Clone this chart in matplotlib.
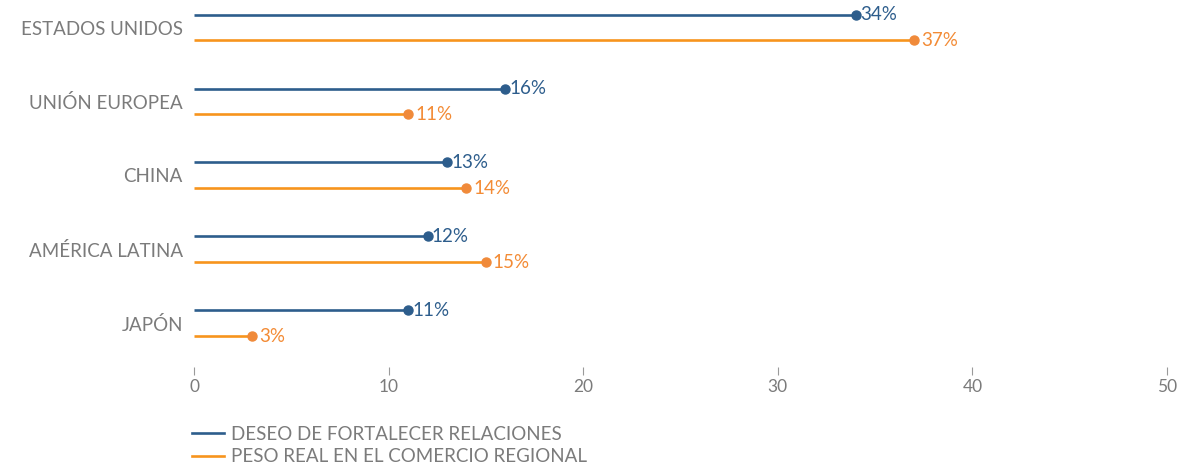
import matplotlib.pyplot as plt
from matplotlib.lines import Line2D
import numpy as np

regions = ['ESTADOS UNIDOS', 'UNIÓN EUROPEA', 'CHINA', 'AMÉRICA LATINA', 'JAPÓN']
deseo = [34, 16, 13, 12, 11]      # deseo de fortalecer relaciones
peso = [37, 11, 14, 15, 3]        # peso real en el comercio regional
ticks = [0, 10, 20, 30, 40, 50]

blue = '#2d5d8c'
orange = '#f7941d'
orange_txt = '#f38b35'
gray = '#7b7b7b'

plt.rcParams['font.family'] = ['Lato', 'DejaVu Sans']

fig = plt.figure(figsize=(11.88, 4.69), dpi=100)
ax = fig.add_axes([0.1633, 1 - 367 / 469, 0.9823 - 0.1633, 367 / 469])

y = np.arange(len(regions))
off = 0.175
for i in range(len(regions)):
    ax.plot([0, deseo[i]], [y[i] - off, y[i] - off], color=blue, lw=1.9, solid_capstyle='butt')
    ax.plot(deseo[i], y[i] - off, 'o', color=blue, ms=6.5)
    ax.annotate(f'{deseo[i]}%', (deseo[i], y[i] - off), xytext=(3, 0), textcoords='offset points',
                va='center', ha='left', color=blue, fontsize=13.5)
    ax.plot([0, peso[i]], [y[i] + off, y[i] + off], color=orange, lw=1.9, solid_capstyle='butt')
    ax.plot(peso[i], y[i] + off, 'o', color='#f08a3a', ms=6.5)
    ax.annotate(f'{peso[i]}%', (peso[i], y[i] + off), xytext=(5, 0), textcoords='offset points',
                va='center', ha='left', color=orange_txt, fontsize=13.5)

ax.set_xlim(0, 50)
ax.set_ylim(4.59, -0.372)
ax.set_yticks(y)
ax.set_yticklabels(regions, fontsize=13.5, color=gray)
ax.set_xticks(ticks)
ax.set_xticklabels([str(t) for t in ticks], fontsize=12.5, color=gray)
ax.tick_params(axis='y', length=0, pad=8)
ax.tick_params(axis='x', length=6, width=0.8, color='#9a9a9a', pad=3)
for s in ax.spines.values():
    s.set_visible(False)

handles = [Line2D([], [], color=blue, lw=1.9), Line2D([], [], color=orange, lw=1.9)]
fig.legend(handles, ['DESEO DE FORTALECER RELACIONES', 'PESO REAL EN EL COMERCIO REGIONAL'],
           loc='upper left', bbox_to_anchor=(192 / 1188, 1 - 426 / 469), frameon=False,
           fontsize=13.5, labelcolor=gray, handlelength=1.7, handletextpad=0.37,
           labelspacing=0.27, borderpad=0, borderaxespad=0)

fig.savefig('out.png', dpi=100)
